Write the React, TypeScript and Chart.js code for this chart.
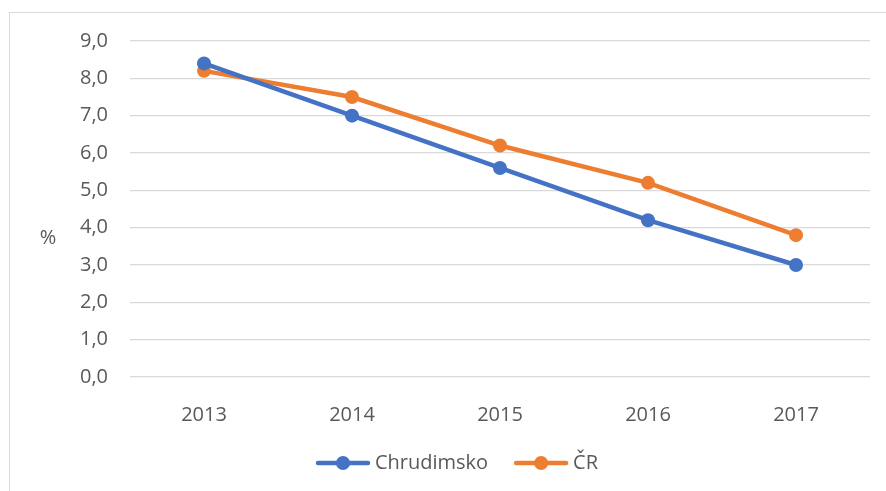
import React, { useEffect, useRef } from "react";
import { Chart, registerables } from "chart.js";

Chart.register(...registerables);

const categories = ["2013", "2014", "2015", "2016", "2017"];
const chrudimsko = [8.4, 7.0, 5.6, 4.2, 3.0];
const cr = [8.2, 7.5, 6.2, 5.2, 3.8];
const seriesNames = ["Chrudimsko", "ČR"];
const seriesColors = ["#4472C4", "#ED7D31"];
const yTitle = "%";
const yMin = 0;
const yMax = 9;
const yStep = 1;

const FONT = "'Open Sans', 'Noto Sans', sans-serif";
const TEXT = "#595959";

const ICON_BOX = 59;

function legendIcon(color: string): HTMLCanvasElement {
  const c = document.createElement("canvas");
  c.width = ICON_BOX + 12;
  c.height = 16;
  const ctx = c.getContext("2d")!;
  const x0 = c.width - 56;
  ctx.strokeStyle = color;
  ctx.lineWidth = 4.5;
  ctx.lineCap = "round";
  ctx.beginPath();
  ctx.moveTo(x0 + 3, 8);
  ctx.lineTo(x0 + 53, 8);
  ctx.stroke();
  ctx.fillStyle = color;
  ctx.beginPath();
  ctx.arc(x0 + 28, 8, 7, 0, Math.PI * 2);
  ctx.fill();
  return c;
}

const yTitlePlugin = {
  id: "yTitlePlugin",
  afterDraw(chart: any) {
    const { ctx, chartArea } = chart;
    ctx.save();
    ctx.font = `20px ${FONT}`;
    ctx.fillStyle = TEXT;
    ctx.textAlign = "center";
    ctx.textBaseline = "middle";
    ctx.fillText(yTitle, chartArea.left - 82, chartArea.top + 197);
    ctx.restore();
  },
};

export default function App() {
  const ref = useRef<HTMLCanvasElement>(null);

  useEffect(() => {
    if (!ref.current) return;
    const icons = seriesColors.map(legendIcon);
    const chart = new Chart(ref.current, {
      type: "line",
      data: {
        labels: categories,
        datasets: [
          {
            label: seriesNames[0],
            data: chrudimsko,
            borderColor: seriesColors[0],
            backgroundColor: seriesColors[0],
            borderWidth: 4.5,
            pointRadius: 7,
            pointBorderWidth: 0,
            pointBackgroundColor: seriesColors[0],
            tension: 0,
          },
          {
            label: seriesNames[1],
            data: cr,
            borderColor: seriesColors[1],
            backgroundColor: seriesColors[1],
            borderWidth: 4.5,
            pointRadius: 7,
            pointBorderWidth: 0,
            pointBackgroundColor: seriesColors[1],
            tension: 0,
          },
        ],
      },
      options: {
        responsive: false,
        animation: false,
        devicePixelRatio: 1,
        layout: { padding: { left: 34, right: 16, top: 41, bottom: 8 } },
        scales: {
          x: {
            offset: true,
            grid: { display: false },
            border: { display: false },
            ticks: { color: TEXT, font: { family: FONT, size: 20 }, padding: 18 },
            afterFit: (s: any) => {
              s.height = 60;
            },
          },
          y: {
            min: yMin,
            max: yMax,
            grid: { color: "#d9d9d9", lineWidth: 1.3, drawTicks: false },
            border: { display: false },
            ticks: {
              stepSize: yStep,
              color: TEXT,
              font: { family: FONT, size: 20 },
              padding: 22,
              callback: (v: any) => Number(v).toFixed(1).replace(".", ","),
            },
            afterFit: (s: any) => {
              s.width = 96;
            },
          },
        },
        plugins: {
          legend: {
            position: "bottom",
            labels: {
              usePointStyle: true,
              pointStyleWidth: ICON_BOX,
              color: TEXT,
              font: { family: FONT, size: 20 },
              padding: 16,
              generateLabels: (chart: any) => {
                const items = Chart.defaults.plugins.legend.labels.generateLabels(chart);
                return items.map((it: any, i: number) => ({ ...it, pointStyle: icons[i] }));
              },
            },
          },
          tooltip: { enabled: false },
        },
      },
      plugins: [yTitlePlugin],
    });
    return () => chart.destroy();
  }, []);

  return (
    <div
      style={{
        position: "absolute",
        left: 0,
        top: 0,
        width: 886,
        height: 491,
        overflow: "hidden",
        background: "#ffffff",
      }}
    >
      <div
        style={{
          position: "absolute",
          left: 9,
          top: 12,
          width: 1000,
          height: 1000,
          border: "1px solid #d9d9d9",
        }}
      />
      <canvas
        ref={ref}
        width={886}
        height={491}
        style={{ position: "absolute", left: 0, top: 0, width: 886, height: 491 }}
      />
    </div>
  );
}
